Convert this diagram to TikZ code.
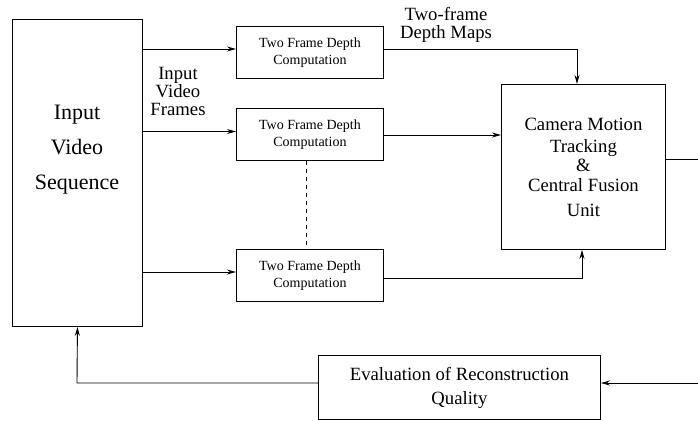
\documentclass[tikz,border=0pt]{standalone}
\usepackage{fontspec}
\setmainfont{Liberation Serif}
\usetikzlibrary{arrows.meta}
\begin{document}
\begin{tikzpicture}[x=1pt,y=-1pt,
  box/.style={draw,line width=0.9pt,rectangle,inner sep=0pt,anchor=north west},
  dbox/.style={box,minimum width=147pt,minimum height=52pt,align=center,
    font=\fontsize{14}{17}\selectfont},
  lbl/.style={inner sep=0pt,align=center,font=\fontsize{18.7}{18}\selectfont},
  arr/.style={line width=0.9pt,-{Stealth[length=9pt,width=5pt]}},
  ln/.style={line width=0.9pt}]
\useasboundingbox (0,0) rectangle (698,420);
% input box
\node[box,minimum width=130pt,minimum height=307pt] (in) at (12,19) {};
\node[inner sep=0pt,align=center,font=\fontsize{22}{35}\selectfont] (intext) at (77,150) {Input\\Video\\Sequence};
% depth boxes
\node[dbox] (b1) at (236,26) {Two Frame Depth\\Computation};
\node[dbox] (b2) at (236,108) {Two Frame Depth\\Computation};
\node[dbox] (b3) at (236,249) {Two Frame Depth\\Computation};
% central box
\node[box,minimum width=164pt,minimum height=165pt,align=center,
  font=\fontsize{18.7}{22}\selectfont] (c) at (501,84)
  {Camera Motion\\Tracking\\[-3pt]\&\\[-2pt]Central Fusion\\[3pt]Unit};
% evaluation box
\node[box,minimum width=282pt,minimum height=64pt,align=center,
  font=\fontsize{18.7}{24}\selectfont] (e) at (318,355)
  {Evaluation of Reconstruction\\Quality};
% labels
\node[lbl] (l1) at (178,91) {Input\\Video\\Frames};
\node[lbl] (l2) at (446,25) {Two-frame\\Depth Maps};
% coordinates
\coordinate (k1) at (577,49);
\coordinate (k3) at (582,278);
\coordinate (cout) at (698,159);
\coordinate (ein) at (698,383);
\coordinate (k4) at (77,383);
% arrows
\draw[arr] (in.east |- 0,49) -- (b1.west |- 0,49);
\draw[arr] (in.east |- 0,131.5) -- (b2.west |- 0,131.5);
\draw[arr] (in.east |- 0,272) -- (b3.west |- 0,272);
\draw[arr] (b1.east |- k1) -- (k1) -- (k1 |- c.north);
\draw[arr] (b2.east |- 0,135) -- (c.west |- 0,135);
\draw[arr] (b3.east |- k3) -- (k3) -- (k3 |- c.south);
\draw[ln] (c.east |- cout) -- (cout);
\draw[arr] (ein) -- (e.east |- ein);
\draw[arr] (e.west |- k4) -- (k4) -- (in.south);
\draw[ln,dash pattern=on 4pt off 4pt] ([xshift=-3.5pt]b2.south) -- ([xshift=-3.5pt]b3.north);
\end{tikzpicture}
\end{document}
